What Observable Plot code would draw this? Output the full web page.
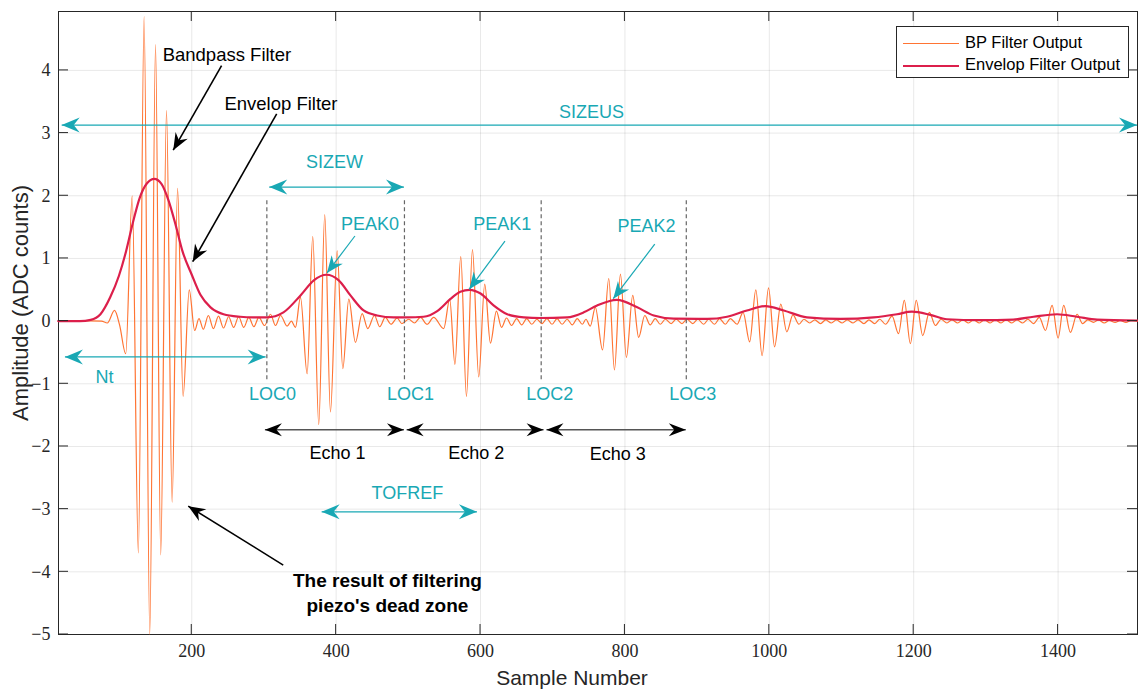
<!DOCTYPE html>
<html><head><meta charset="utf-8">
<script src="https://cdn.jsdelivr.net/npm/d3@7"></script>
<script src="https://cdn.jsdelivr.net/npm/@observablehq/plot@0.6"></script>
<style>
body{margin:0;background:#fff;}
#wrap{position:relative;width:1138px;height:689px;overflow:hidden;}
.legend{position:absolute;left:896px;top:26px;width:231px;height:50px;border:1px solid #262626;background:#fff;font-family:"Liberation Sans",Arial,sans-serif;font-size:16.5px;color:#000;}
.legend .row{position:absolute;left:6px;height:20px;line-height:20px;white-space:nowrap;}
.legend .sw{display:inline-block;width:56px;height:0;vertical-align:middle;margin-right:6px;}
</style></head><body><div id="wrap"></div>
<script>
// ---- data ----
const xTicks = [200, 400, 600, 800, 1000, 1200, 1400];
const yTicks = [-5, -4, -3, -2, -1, 0, 1, 2, 3, 4];
// band-pass filter output (local extrema)
const bpX = [15,40,60,75,83,93,100,108.5,117.5,126,134,141.8,149.8,157,165,172.8,180.3,188,196.5,204,210,216,223,230,237,244,251,258,265,272,279,286,293,300.8,309,316,323,332,338,343.6,350.6,359.8,367.6,375.9,384.2,392.1,401.4,409.2,417.5,426.7,436,443.8,453,460.4,468,476,484.5,491,500.6,508.5,516.7,526,535,549,557.3,564.5,572.6,580.5,588.8,597.5,605.8,613.7,622,629,636,643,650,657,664,671,678,685,692,699,706,713,720,727,734,741,746,752,759,769,777.6,785.5,793.8,802,810.8,819,827.5,835,842,849,856,864,871,879,886,894,901,909,916,924,931,939,946,955.4,963.7,972.8,981.3,990,998.9,1007.3,1015.9,1024.2,1032.7,1041,1048,1056,1063,1071,1078,1086,1093,1101,1108,1116,1123,1131,1138,1146,1153,1161,1170,1179,1187,1195.4,1203.5,1212.5,1221.7,1230,1238,1246,1253,1261,1268,1276,1283,1291,1298,1306,1313,1321,1328,1336,1343,1351,1358,1366,1374,1382.5,1391.7,1400,1407.8,1417,1426.3,1434,1441,1449,1456,1464,1471,1479,1486,1494,1501,1510];
const bpY = [0,0,0.005,0,-0.03,0.17,-0.06,-0.52,2.0,-3.7,4.86,-5.0,4.41,-3.73,3.36,-2.89,2.12,-1.2,0.5,-0.15,0.04,-0.13,0.09,-0.12,0.08,-0.11,0.07,-0.1,0.07,-0.1,0.06,-0.09,0.06,-0.07,0.11,-0.07,0.09,-0.08,0.0,-0.1,0.38,-0.84,1.35,-1.65,1.70,-1.45,1.12,-0.76,0.35,-0.34,0.12,-0.12,0.09,-0.09,0.06,-0.05,0.05,-0.04,0.03,-0.03,0.06,-0.05,0.06,-0.12,0.35,-0.69,1.03,-1.2,1.14,-0.89,0.59,-0.35,0.16,-0.1,0.05,-0.07,0.04,-0.06,0.04,-0.05,0.03,-0.04,0.04,-0.05,0.04,-0.05,0.03,-0.06,0.04,-0.05,0.03,-0.08,0.22,-0.46,0.68,-0.78,0.75,-0.58,0.41,-0.26,0.09,-0.06,0.04,-0.05,0.03,-0.04,0.03,-0.04,0.03,-0.04,0.03,-0.05,0.03,-0.05,0.04,-0.05,0.04,-0.05,0.14,-0.33,0.5,-0.55,0.53,-0.41,0.27,-0.17,0.1,-0.05,0.03,-0.03,0.02,-0.04,0.02,-0.03,0.02,-0.03,0.02,-0.03,0.02,-0.04,0.02,-0.04,0.03,-0.05,0.08,-0.2,0.33,-0.36,0.33,-0.23,0.14,-0.07,0.03,-0.03,0.02,-0.03,0.02,-0.03,0.02,-0.03,0.02,-0.03,0.02,-0.03,0.02,-0.03,0.02,-0.03,0.03,-0.04,0.06,-0.15,0.25,-0.27,0.25,-0.18,0.11,-0.04,0.02,-0.02,0.02,-0.03,0.01,-0.02,0.01,-0.02,0.01,0];
// envelope filter output
const envX = [15,45,60,73.5,87,99,108,118,128,138,148,158,168,178,187,200,212,226,244,267,285,304,327,350.6,369,386.6,403.6,419.8,438,456.8,479.8,498,521,540,558,572,585,600,618,637,660,683,720,743,761.5,789,817,840,867.6,914,941.5,969,994.6,1020,1052,1098.5,1144.6,1177,1197.6,1223,1246,1292,1338,1366,1398.6,1426,1454,1510];
const envY = [0,0,0.02,0.11,0.38,0.72,1.07,1.55,1.97,2.2,2.27,2.19,1.92,1.52,1.12,0.74,0.42,0.22,0.11,0.07,0.06,0.06,0.14,0.41,0.65,0.74,0.65,0.41,0.17,0.09,0.06,0.06,0.07,0.16,0.35,0.47,0.5,0.44,0.25,0.11,0.06,0.05,0.06,0.14,0.25,0.34,0.22,0.09,0.04,0.035,0.07,0.17,0.24,0.17,0.06,0.035,0.06,0.11,0.15,0.1,0.03,0.015,0.025,0.07,0.11,0.07,0.025,0.01];
// annotations (data units)
const locNames = ["LOC0","LOC1","LOC2","LOC3"];
const locX = [304, 494.6, 684, 885];
const locTop = 1.92, locBottom = -0.98, locLabelY = -1.16;
const locLabelX = [311.8, 503, 696, 894];
const spanNames = ["SIZEUS","SIZEW","Nt","TOFREF"];
const spanX1 = [20.5, 308, 25, 380.6];
const spanX2 = [1510, 494.6, 303, 595.7];
const spanY = [3.12, 2.13, -0.58, -3.05];
const spanLabelX = [753.6, 397.6, 79, 498.7];
const spanLabelY = [3.34, 2.53, -0.9, -2.75];
const echoNames = ["Echo 1","Echo 2","Echo 3"];
const echoX1 = [302, 498.3, 692];
const echoX2 = [494.6, 688, 885];
const echoY = -1.74;
const echoLabelX = [401.8, 594, 790];
const echoLabelY = [-2.1, -2.1, -2.13];
const peakNames = ["PEAK0","PEAK1","PEAK2"];
const peakLabelX = [447, 630, 830];
const peakLabelY = [1.55, 1.55, 1.51];
const peakFrom = [[426.7,1.35],[634.5,1.27],[842,1.22]];
const peakTo = [[388,0.76],[585,0.5],[784.5,0.35]];
const noteNames = ["Bandpass Filter","Envelop Filter"];
const noteX = [248.7, 323.5];
const noteY = [4.24, 3.46];
const noteFrom = [[242,4.07],[318.3,3.30],[327.4,-3.9]];
const noteTo = [[175,2.72],[202,0.94],[195.8,-2.96]];
const deadZoneText = "The result of filtering\npiezo's dead zone";
const deadZoneX = 471, deadZoneY = -4.31;

// ---- styles ----
const ORANGE = "#ff7433", CRIMSON = "#dc1f4b", CYAN = "#19a8b4", INK = "#262626";
const SANS = '"Liberation Sans", Arial, sans-serif';
const fmt = d => d < 0 ? "\u2212" + (-d) : String(d);

const bp = bpX.map((x, i) => ({x, y: bpY[i]}));
const env = envX.map((x, i) => ({x, y: envY[i]}));

function head(g, tx, ty, fx, fy, L, W, N, color) {
  const dx = tx - fx, dy = ty - fy, len = Math.hypot(dx, dy) || 1;
  const ux = dx/len, uy = dy/len, nx = -uy, ny = ux;
  const bx = tx - L*ux, by = ty - L*uy;
  const p = [[tx,ty],[bx + W*nx, by + W*ny],[tx - (L-N)*ux, ty - (L-N)*uy],[bx - W*nx, by - W*ny]];
  g.append("path").attr("d", "M" + p.map(q => q.join(",")).join("L") + "Z").attr("fill", color);
}
function seg(g, x1, y1, x2, y2, color, w) {
  g.append("line").attr("x1", x1).attr("y1", y1).attr("x2", x2).attr("y2", y2)
   .attr("stroke", color).attr("stroke-width", w);
}

function overlay(index, scales, values, dim) {
  const x = scales.x, y = scales.y;
  const g = d3.create("svg:g");
  const L = dim.marginLeft, R = dim.width - dim.marginRight, T = dim.marginTop, B = dim.height - dim.marginBottom;
  const tk = 10;
  for (const t of xTicks) { const px = x(t); seg(g, px, B, px, B - tk, INK, 1); seg(g, px, T, px, T + tk, INK, 1); }
  for (const t of yTicks) { const py = y(t); seg(g, L, py, L + tk, py, INK, 1); seg(g, R, py, R - tk, py, INK, 1); }
  spanX1.forEach((v, i) => {
    const a = x(v), b = x(spanX2[i]), py = y(spanY[i]);
    seg(g, a, py, b, py, CYAN, 1.3);
    head(g, a, py, b, py, 18, 7.5, 6, CYAN);
    head(g, b, py, a, py, 18, 7.5, 6, CYAN);
  });
  echoX1.forEach((v, i) => {
    const a = x(v), b = x(echoX2[i]), py = y(echoY);
    seg(g, a, py, b, py, "#555", 1.6);
    head(g, a, py, b, py, 17, 6.5, 5.5, "#000");
    head(g, b, py, a, py, 17, 6.5, 5.5, "#000");
  });
  peakFrom.forEach((f, i) => {
    const fx = x(f[0]), fy = y(f[1]), tx = x(peakTo[i][0]), ty = y(peakTo[i][1]);
    seg(g, fx, fy, tx, ty, CYAN, 1.2);
    head(g, tx, ty, fx, fy, 17, 7, 5.5, CYAN);
  });
  noteFrom.forEach((f, i) => {
    const fx = x(f[0]), fy = y(f[1]), tx = x(noteTo[i][0]), ty = y(noteTo[i][1]);
    seg(g, fx, fy, tx, ty, "#000", 1.6);
    head(g, tx, ty, fx, fy, 17, 7, 5.5, "#000");
  });
  return g.node();
}

const chart = Plot.plot({
  width: 1138, height: 689,
  marginLeft: 58, marginRight: 1, marginTop: 11, marginBottom: 55,
  style: {fontFamily: '"Liberation Serif", "Times New Roman", serif', fontSize: "18px", color: INK, background: "white"},
  x: {domain: [15.4, 1510], ticks: xTicks, tickFormat: fmt, tickSize: 0, tickPadding: 10, label: null, grid: true},
  y: {domain: [-5, 4.94], ticks: yTicks, tickFormat: fmt, tickSize: 0, tickPadding: 8, label: null, grid: true},
  marks: [
    Plot.frame({stroke: INK, strokeWidth: 1}),
    Plot.line(bp, {x: "x", y: "y", curve: "monotone-x", stroke: ORANGE, strokeWidth: 1.2}),
    Plot.line(env, {x: "x", y: "y", curve: "monotone-x", stroke: CRIMSON, strokeWidth: 2.2}),
    Plot.ruleX(locX, {x: d => d, y1: locTop, y2: locBottom, stroke: "#666", strokeWidth: 1.2, strokeDasharray: "4,3"}),
    overlay,
    Plot.text(locNames, {x: (d, i) => locLabelX[i], y: locLabelY, text: d => d, fill: CYAN, fontFamily: SANS, fontSize: 18}),
    Plot.text(spanNames, {x: (d, i) => spanLabelX[i], y: (d, i) => spanLabelY[i], text: d => d, fill: CYAN, fontFamily: SANS, fontSize: 18}),
    Plot.text(peakNames, {x: (d, i) => peakLabelX[i], y: (d, i) => peakLabelY[i], text: d => d, fill: CYAN, fontFamily: SANS, fontSize: 18}),
    Plot.text(echoNames, {x: (d, i) => echoLabelX[i], y: (d, i) => echoLabelY[i], text: d => d, fill: "#000", fontFamily: SANS, fontSize: 18}),
    Plot.text(noteNames, {x: (d, i) => noteX[i], y: (d, i) => noteY[i], text: d => d, fill: "#000", fontFamily: SANS, fontSize: 18.5}),
    Plot.text([deadZoneText], {x: deadZoneX, y: deadZoneY, text: d => d, fill: "#000", fontFamily: SANS, fontSize: 19, fontWeight: "bold", lineHeight: 1.32}),
    Plot.text(["Sample Number"], {frameAnchor: "bottom", textAnchor: "middle", dx: -26, dy: 50, text: d => d, fill: INK, fontFamily: SANS, fontSize: 21}),
    Plot.text(["Amplitude (ADC counts)"], {frameAnchor: "left", textAnchor: "middle", dx: -38, dy: -20, rotate: -90, text: d => d, fill: INK, fontFamily: SANS, fontSize: 22})
  ]
});

const wrap = document.getElementById("wrap");
wrap.appendChild(chart);
const lg = document.createElement("div");
lg.className = "legend";
lg.innerHTML =
  `<div class="row" style="top:5px"><span class="sw" style="border-top:1.2px solid ${ORANGE}"></span>BP Filter Output</div>` +
  `<div class="row" style="top:27px"><span class="sw" style="border-top:2.2px solid ${CRIMSON}"></span>Envelop Filter Output</div>`;
wrap.appendChild(lg);
</script>
</body></html>
